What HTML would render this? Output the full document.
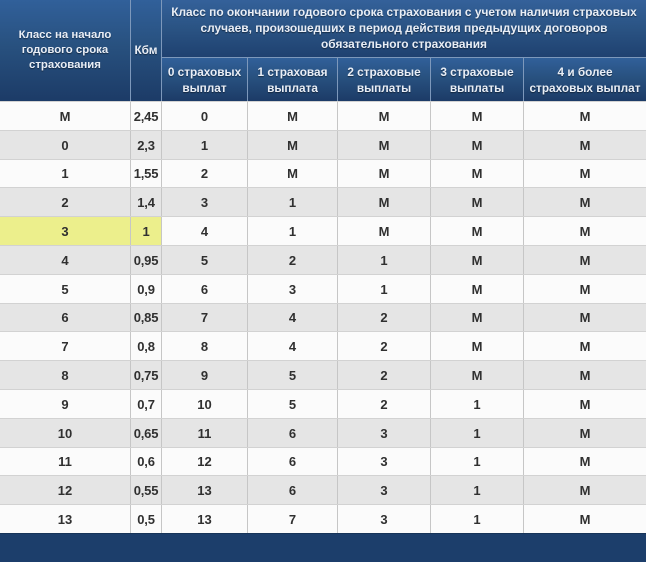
<!DOCTYPE html>
<html>
<head>
<meta charset="utf-8">
<style>
*{margin:0;padding:0;box-sizing:border-box;}
html,body{width:646px;height:562px;overflow:hidden;background:#fff;}
body{position:relative;font-family:"Liberation Sans","DejaVu Sans",sans-serif;}
.h{position:absolute;display:flex;align-items:center;justify-content:center;text-align:center;
 color:#e9eef6;font-weight:bold;font-size:11.5px;line-height:15px;
 text-shadow:0 1px 1px rgba(0,0,0,0.45);
 background:linear-gradient(to bottom,#31609a 0%,#28517f 45%,#1c3b67 100%);}
.hb{border-left:1px solid #7d98bb;}
.s{font-size:11.8px;line-height:16px;border-top:1px solid #7d98bb;top:57px;height:44px;}
.row{position:absolute;left:0;width:646px;display:flex;border-top:1px solid #d2d2d2;}
.row div{display:flex;align-items:center;justify-content:center;font-weight:bold;font-size:13px;color:#303030;height:100%;}
.row div+div{border-left:1px solid #c6c6c6;}
.w{background:#fbfbfb;}
.g{background:#e5e5e5;}
.y{background:#ecef8c !important;}
.c1{width:130px;}.c2{width:31px;letter-spacing:-0.2px;}.c3{width:86px;}.c4{width:90px;}.c5{width:93px;}.c6{width:93px;}.c7{width:123px;}
#foot{position:absolute;left:0;top:533px;width:646px;height:29px;background:#1c3e6b;border-top:1px solid #173459;}
</style>
</head>
<body>
<div class="h" style="left:0;top:0;width:130px;height:101px;font-size:11.4px;">Класс на начало<br>годового срока<br>страхования</div>
<div class="h hb" style="left:130px;top:0;width:31px;height:101px;font-size:11.8px;">Кбм</div>
<div class="h hb" style="left:161px;top:0;width:485px;height:57px;line-height:16px;font-size:11.9px;padding-top:1px;padding-bottom:2px;background:linear-gradient(to bottom,#34619a 0%,#2a5383 50%,#1f4170 100%);">Класс по окончании годового срока страхования с учетом наличия страховых<br>случаев, произошедших в период действия предыдущих договоров<br>обязательного страхования</div>
<div class="h hb s" style="left:161px;width:86px;">0 страховых<br>выплат</div>
<div class="h hb s" style="left:247px;width:90px;">1 страховая<br>выплата</div>
<div class="h hb s" style="left:337px;width:93px;">2 страховые<br>выплаты</div>
<div class="h hb s" style="left:430px;width:93px;">3 страховые<br>выплаты</div>
<div class="h hb s" style="left:523px;width:123px;">4 и более<br>страховых выплат</div>

<div class="row w" style="top:101px;height:29px;"><div class="c1">М</div><div class="c2">2,45</div><div class="c3">0</div><div class="c4">М</div><div class="c5">М</div><div class="c6">М</div><div class="c7">М</div></div>
<div class="row g" style="top:130px;height:29px;"><div class="c1">0</div><div class="c2">2,3</div><div class="c3">1</div><div class="c4">М</div><div class="c5">М</div><div class="c6">М</div><div class="c7">М</div></div>
<div class="row w" style="top:159px;height:28px;"><div class="c1">1</div><div class="c2">1,55</div><div class="c3">2</div><div class="c4">М</div><div class="c5">М</div><div class="c6">М</div><div class="c7">М</div></div>
<div class="row g" style="top:187px;height:29px;"><div class="c1">2</div><div class="c2">1,4</div><div class="c3">3</div><div class="c4">1</div><div class="c5">М</div><div class="c6">М</div><div class="c7">М</div></div>
<div class="row w" style="top:216px;height:29px;"><div class="c1 y">3</div><div class="c2 y">1</div><div class="c3">4</div><div class="c4">1</div><div class="c5">М</div><div class="c6">М</div><div class="c7">М</div></div>
<div class="row g" style="top:245px;height:29px;"><div class="c1">4</div><div class="c2">0,95</div><div class="c3">5</div><div class="c4">2</div><div class="c5">1</div><div class="c6">М</div><div class="c7">М</div></div>
<div class="row w" style="top:274px;height:29px;"><div class="c1">5</div><div class="c2">0,9</div><div class="c3">6</div><div class="c4">3</div><div class="c5">1</div><div class="c6">М</div><div class="c7">М</div></div>
<div class="row g" style="top:303px;height:28px;"><div class="c1">6</div><div class="c2">0,85</div><div class="c3">7</div><div class="c4">4</div><div class="c5">2</div><div class="c6">М</div><div class="c7">М</div></div>
<div class="row w" style="top:331px;height:29px;"><div class="c1">7</div><div class="c2">0,8</div><div class="c3">8</div><div class="c4">4</div><div class="c5">2</div><div class="c6">М</div><div class="c7">М</div></div>
<div class="row g" style="top:360px;height:29px;"><div class="c1">8</div><div class="c2">0,75</div><div class="c3">9</div><div class="c4">5</div><div class="c5">2</div><div class="c6">М</div><div class="c7">М</div></div>
<div class="row w" style="top:389px;height:29px;"><div class="c1">9</div><div class="c2">0,7</div><div class="c3">10</div><div class="c4">5</div><div class="c5">2</div><div class="c6">1</div><div class="c7">М</div></div>
<div class="row g" style="top:418px;height:29px;"><div class="c1">10</div><div class="c2">0,65</div><div class="c3">11</div><div class="c4">6</div><div class="c5">3</div><div class="c6">1</div><div class="c7">М</div></div>
<div class="row w" style="top:447px;height:28px;"><div class="c1">11</div><div class="c2">0,6</div><div class="c3">12</div><div class="c4">6</div><div class="c5">3</div><div class="c6">1</div><div class="c7">М</div></div>
<div class="row g" style="top:475px;height:29px;"><div class="c1">12</div><div class="c2">0,55</div><div class="c3">13</div><div class="c4">6</div><div class="c5">3</div><div class="c6">1</div><div class="c7">М</div></div>
<div class="row w" style="top:504px;height:29px;"><div class="c1">13</div><div class="c2">0,5</div><div class="c3">13</div><div class="c4">7</div><div class="c5">3</div><div class="c6">1</div><div class="c7">М</div></div>

<div id="foot"></div>
</body>
</html>
